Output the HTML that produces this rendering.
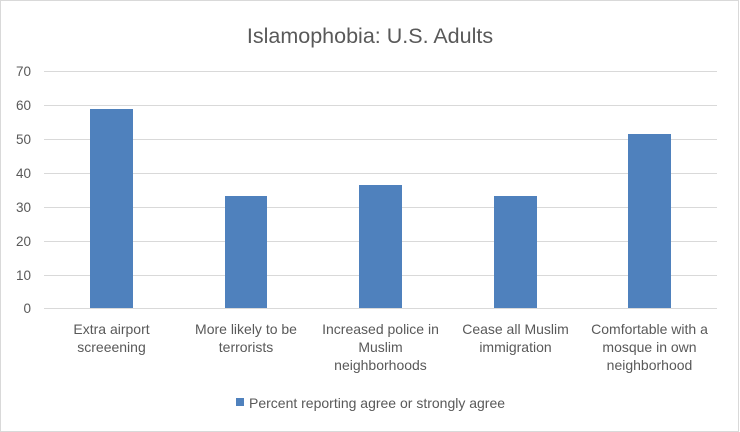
<!DOCTYPE html>
<html><head><style>
body{margin:0;background:#fff;}
svg{display:block;font-family:"Liberation Sans",sans-serif;}
</style></head><body>
<svg width="740" height="432" xmlns="http://www.w3.org/2000/svg">
<rect x="0.5" y="0.5" width="738" height="431" fill="#fff" stroke="#d9d9d9"/>
<text x="370" y="43" text-anchor="middle" font-size="21.5" fill="#595959">Islamophobia: U.S. Adults</text>
<g stroke="#d9d9d9" stroke-width="1">
<line x1="44" x2="717" y1="71.5" y2="71.5"/>
<line x1="44" x2="717" y1="105.5" y2="105.5"/>
<line x1="44" x2="717" y1="139.5" y2="139.5"/>
<line x1="44" x2="717" y1="173.5" y2="173.5"/>
<line x1="44" x2="717" y1="207.5" y2="207.5"/>
<line x1="44" x2="717" y1="241.5" y2="241.5"/>
<line x1="44" x2="717" y1="275.5" y2="275.5"/>
<line x1="44" x2="717" y1="308.5" y2="308.5"/>
</g>
<g font-size="13.5" fill="#595959" text-anchor="end">
<text x="31" y="76">70</text><text x="31" y="110">60</text><text x="31" y="144">50</text>
<text x="31" y="178">40</text><text x="31" y="212">30</text><text x="31" y="246">20</text>
<text x="31" y="280">10</text><text x="31" y="313">0</text>
</g>
<g fill="#4f81bd">
<rect x="90" y="109" width="43" height="199"/>
<rect x="225" y="196" width="42" height="112"/>
<rect x="359" y="185" width="43" height="123"/>
<rect x="494" y="196" width="43" height="112"/>
<rect x="628" y="134" width="43" height="174"/>
</g>
<g font-size="14" fill="#595959" text-anchor="middle">
<text x="111.5" y="334">Extra airport</text><text x="111.5" y="352">screeening</text>
<text x="246" y="334">More likely to be</text><text x="246" y="352">terrorists</text>
<text x="380.5" y="334">Increased police in</text><text x="380.5" y="352">Muslim</text><text x="380.5" y="370">neighborhoods</text>
<text x="515.5" y="334">Cease all Muslim</text><text x="515.5" y="352">immigration</text>
<text x="649.5" y="334">Comfortable with a</text><text x="649.5" y="352">mosque in own</text><text x="649.5" y="370">neighborhood</text>
</g>
<rect x="236" y="398" width="8" height="8" fill="#4f81bd"/>
<text x="249" y="408" font-size="14" fill="#595959">Percent reporting agree or strongly agree</text>
</svg>
</body></html>
